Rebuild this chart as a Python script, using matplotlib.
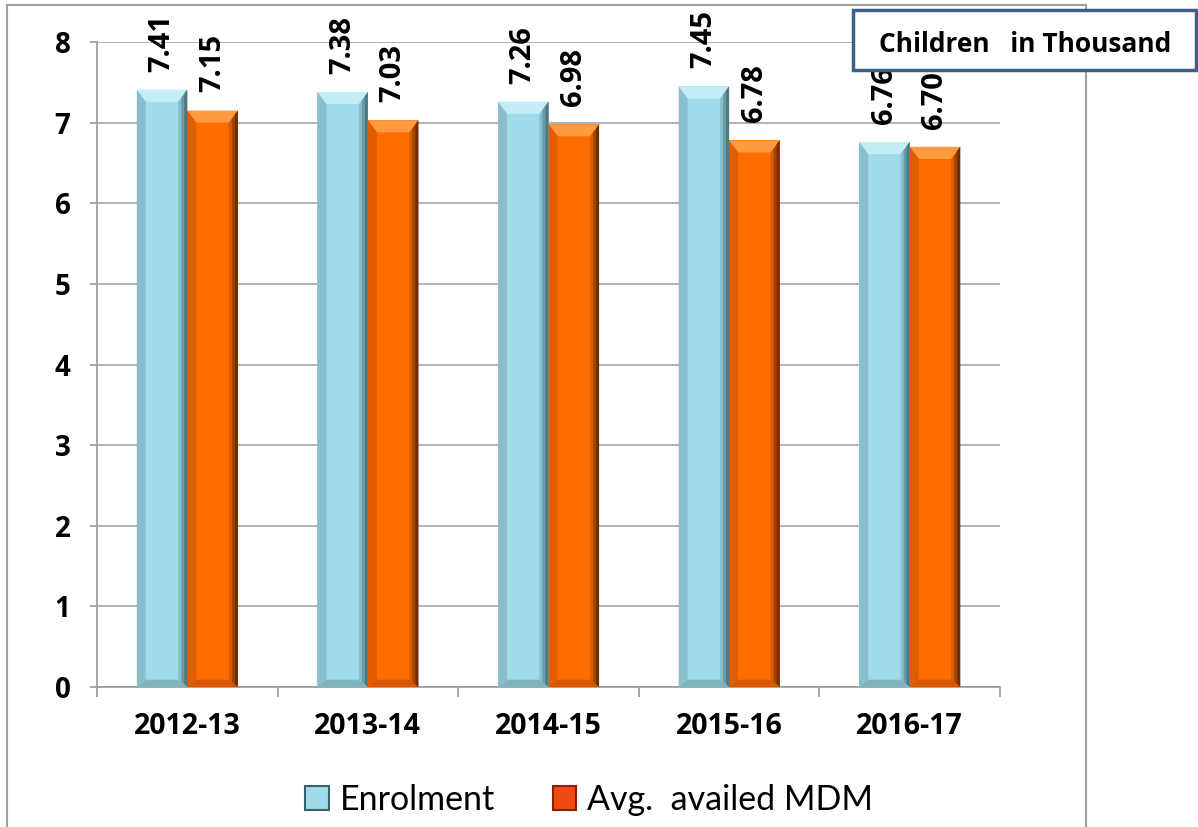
import numpy as np
import matplotlib.pyplot as plt
from matplotlib.patches import Polygon, Rectangle, Patch

plt.rcParams['font.family'] = ['Open Sans', 'DejaVu Sans']

years = ["2012-13", "2013-14", "2014-15", "2015-16", "2016-17"]
enrolment = [7.41, 7.38, 7.26, 7.45, 6.76]
avg_mdm = [7.15, 7.03, 6.98, 6.78, 6.70]

# face, top bevel, right shade, left shade
blue = ("#9fdbe9", "#c4eef7", "#3a626b", "#78a9b5")
orange = ("#ff6d00", "#ff9a40", "#4f1e00", "#c85200")

fig = plt.figure(figsize=(11.98, 8.27), dpi=100)
ax = fig.add_axes([97 / 1198, 1 - 687 / 827, 903 / 1198, 645 / 827])

x = np.arange(len(years))
w = 0.28


def bevel_bars(xs, vals, cols):
    bars = ax.bar(xs, vals, w, color=cols[0], zorder=3)
    dx = 0.05
    dy = 0.15
    for b in bars:
        x0 = b.get_x()
        x1 = x0 + b.get_width()
        h = b.get_height()
        # bevelled edges: light top, dark right, softer left and bottom
        ax.add_patch(Polygon([(x0, h), (x1, h), (x1 - dx, h - dy), (x0 + dx, h - dy)],
                             closed=True, fc=cols[1], ec="none", zorder=4))
        for k, a in enumerate([0.35, 0.6, 0.9]):
            f = (3 - k) / 3
            ax.add_patch(Polygon([(x1, h), (x1, 0), (x1 - dx * f, dy * 0.6 * f),
                                  (x1 - dx * f, h - dy * f)],
                                 closed=True, fc=cols[2], ec="none", zorder=4, alpha=a * 0.65))
        ax.add_patch(Polygon([(x0, h), (x0, 0), (x0 + dx, dy * 0.6), (x0 + dx, h - dy)],
                             closed=True, fc=cols[3], ec="none", zorder=4, alpha=0.55))
        ax.add_patch(Polygon([(x0, 0), (x1, 0), (x1 - dx, dy * 0.6), (x0 + dx, dy * 0.6)],
                             closed=True, fc=cols[3], ec="none", zorder=4, alpha=0.8))
        ax.annotate("{:.2f}".format(h), (b.get_x() + w / 2, h), xytext=(0, 13),
                    textcoords="offset points", rotation=90, ha="center", va="bottom",
                    fontsize=21, fontweight="bold", zorder=6)
    return bars


bevel_bars(x - w / 2, enrolment, blue)
bevel_bars(x + w / 2, avg_mdm, orange)

ax.set_xlim(-0.5, 4.5)
ax.set_ylim(0, 8)
ax.set_yticks(range(0, 9))
ax.set_xticks(x)
ax.set_xticklabels(years, fontsize=20.5, fontweight="bold")
ax.set_xticks(np.arange(-0.5, 5, 1), minor=True)
ax.tick_params(axis="x", which="major", length=0, pad=18)
ax.tick_params(axis="x", which="minor", length=7, color="#9a9a9a", width=1.2)
ax.tick_params(axis="y", length=5, color="#9a9a9a", width=1.2, pad=14, labelsize=20)
for t in ax.get_yticklabels():
    t.set_fontweight("bold")

ax.grid(axis="y", color="#a6a6a6", lw=1.2, zorder=0)
ax.set_axisbelow(True)
for s in ["top", "right"]:
    ax.spines[s].set_visible(False)
for s in ["left", "bottom"]:
    ax.spines[s].set_color("#9a9a9a")
    ax.spines[s].set_linewidth(1.2)

# chart frame
fig.patches.append(Rectangle((7 / 1198, -0.05), 1079 / 1198, 1.05 - 5 / 827,
                             transform=fig.transFigure, fill=False,
                             ec="#a0a0a0", lw=1.5, zorder=0))

# unit box
fig.patches.append(Rectangle((853 / 1198, 1 - 70 / 827), 343 / 1198, 60 / 827,
                             transform=fig.transFigure, fc="white",
                             ec="#3d5f8c", lw=2.5, zorder=5))
fig.text(1025 / 1198, 1 - 44 / 827, "Children   in Thousand", ha="center", va="center",
         fontsize=19, fontweight="bold", zorder=6)

handles = [Patch(fc=blue[0], ec=blue[2], lw=1.5), Patch(fc="#f04a10", ec="#8a2000", lw=1.5)]
fig.legend(handles, ["Enrolment", "Avg.  availed MDM"], loc="center",
           bbox_to_anchor=(589 / 1198, 1 - 800 / 827), ncol=2, frameon=False,
           prop={"family": "Lato", "size": 24.5}, handlelength=0.7,
           handleheight=0.7, handletextpad=0.3, columnspacing=1.7)

fig.savefig("out.png", dpi=100)
